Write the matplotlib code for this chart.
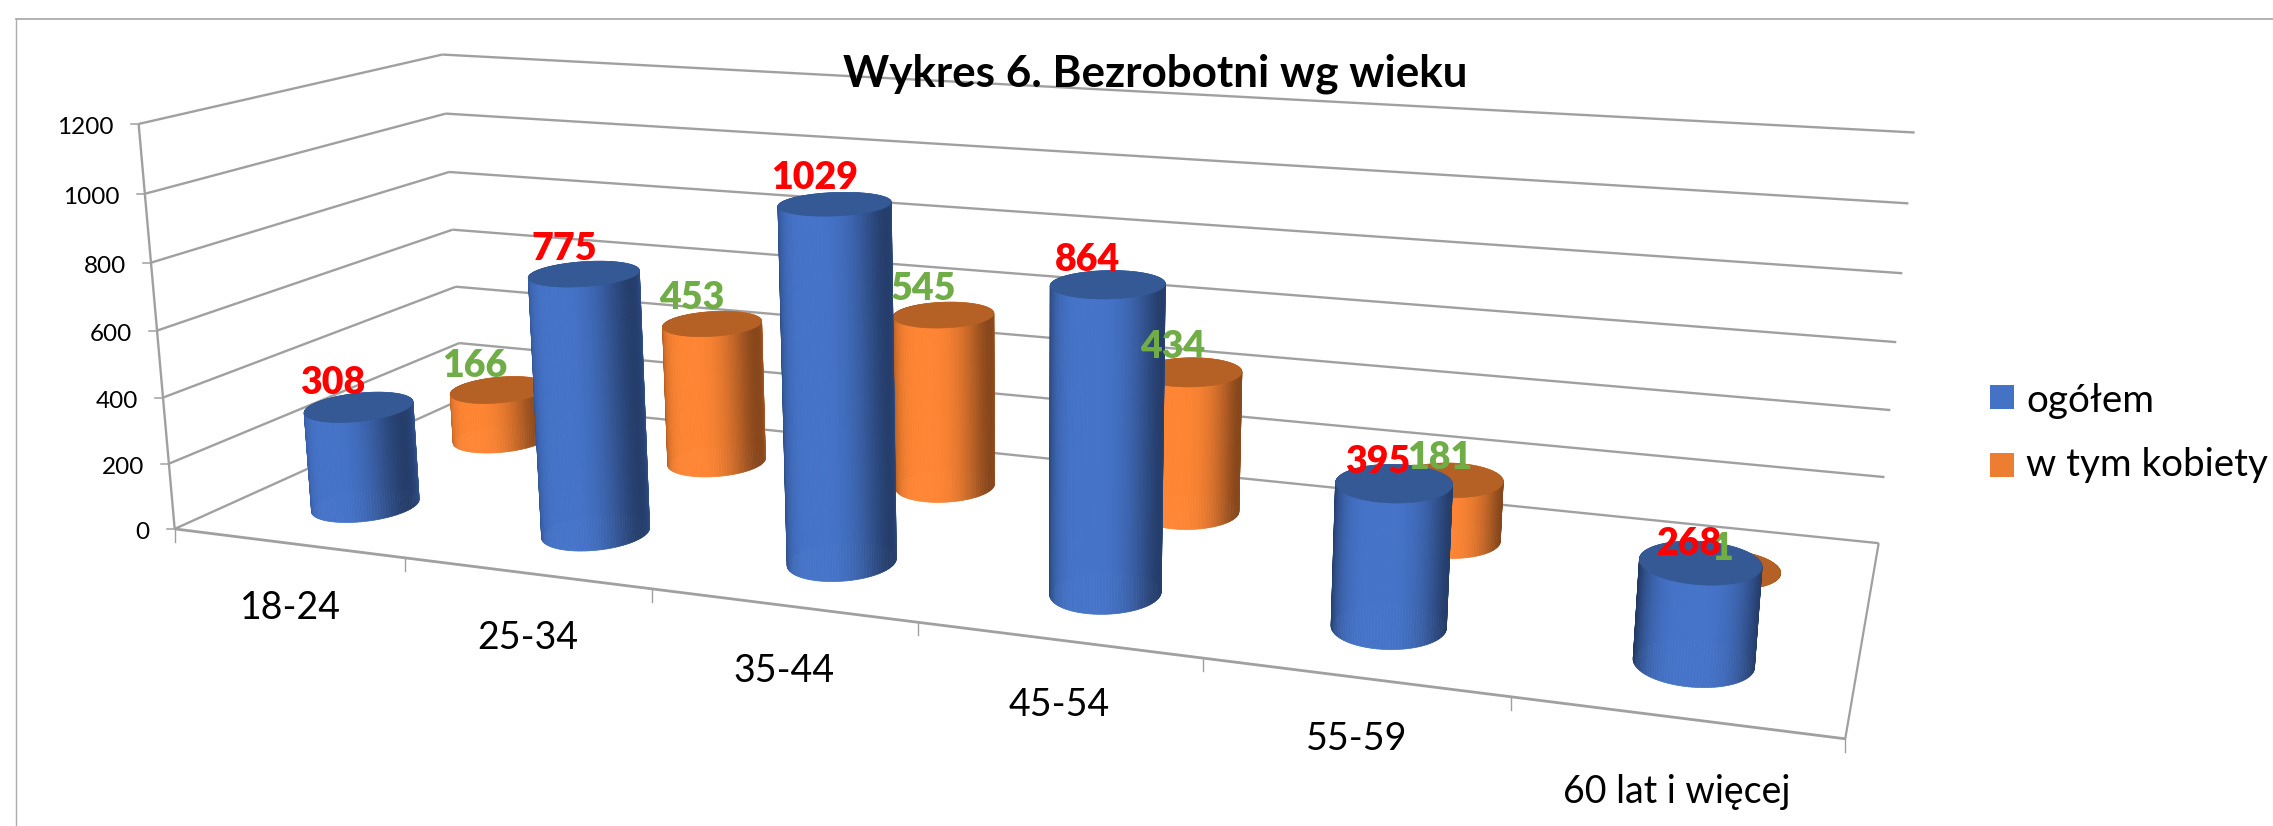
import numpy as np
import matplotlib
matplotlib.use("Agg")
import matplotlib.pyplot as plt
from matplotlib.collections import PolyCollection
from matplotlib.patches import Polygon, Rectangle

# ---------- data ----------
categories = ["18-24", "25-34", "35-44", "45-54", "55-59", "60 lat i więcej"]
ogolem = [308, 775, 1029, 864, 395, 268]
kobiety = [166, 453, 545, 434, 181, 1]
y_ticks = [0, 200, 400, 600, 800, 1000, 1200]
title = "Wykres 6. Bezrobotni wg wieku"
series_names = ["ogółem", "w tym kobiety"]

# ---------- layout ----------
W, H = 2273, 826
plt.rcParams["font.family"] = ["Lato", "DejaVu Sans"]
fig = plt.figure(figsize=(W / 100, H / 100), dpi=100, facecolor="white")
ax = fig.add_axes([0, 0, 1, 1])
ax.set_xlim(0, W)
ax.set_ylim(H, 0)
ax.axis("off")

# Camera of the 3D box: world (category, value, depth) -> picture, calibrated on the box corners.
calib = [
    (0, 0, 0, 176, 529), (0, 200, 0, 168, 464), (0, 400, 0, 162, 397), (0, 600, 0, 156, 330),
    (0, 800, 0, 150, 263), (0, 1000, 0, 145, 194), (0, 1200, 0, 140, 124),
    (0, 200, 1, 459, 343), (0, 400, 1, 456, 286), (0, 600, 1, 453, 230),
    (0, 800, 1, 449, 172), (0, 1000, 1, 445, 114), (0, 1200, 1, 443, 55),
    (6, 0, 1, 1878, 543), (6, 200, 1, 1885, 478), (6, 400, 1, 1891, 410), (6, 600, 1, 1896, 342),
    (6, 800, 1, 1902, 273), (6, 1000, 1, 1908, 203), (6, 1200, 1, 1915, 132),
    (6, 0, 0, 1845, 739), (1, 0, 0, 406, 558), (2, 0, 0, 653, 589), (3, 0, 0, 918, 621),
    (5, 0, 0, 1511, 698),
]
A = []
for X, Y, Z, u, v in calib:
    Yn = Y / 1200
    A.append([X, Yn, Z, 1, 0, 0, 0, 0, -u / 1000 * X, -u / 1000 * Yn, -u / 1000 * Z, -u / 1000])
    A.append([0, 0, 0, 0, X, Yn, Z, 1, -v / 1000 * X, -v / 1000 * Yn, -v / 1000 * Z, -v / 1000])
P = np.linalg.svd(np.array(A))[2][-1].reshape(3, 4)


def proj(x, y, z):
    x, y, z = np.broadcast_arrays(np.asarray(x, float), np.asarray(y, float) / 1200, np.asarray(z, float))
    h = np.stack([x, y, z, np.ones_like(x)], axis=-1) @ P.T
    return h[..., 0] / h[..., 2] * 1000, h[..., 1] / h[..., 2] * 1000


GRID = "#A0A0A0"
# chart frame
ax.plot([16, 16], [H, 19], color="#ADADAD", lw=1.0, zorder=1)
ax.plot([16, W], [19, 19], color="#A6A6A6", lw=1.2, zorder=1)


def seg(p0, p1, lw=1.7):
    (x0, y0), (x1, y1) = proj(*p0), proj(*p1)
    ax.plot([x0, x1], [y0, y1], color=GRID, lw=lw, zorder=2, solid_capstyle="butt")


for v in y_ticks:
    seg((0, v, 0), (0, v, 1))
    seg((0, v, 1), (6, v, 1))
    xt, yt = proj(0, v, 0)
    ax.plot([xt - 8, xt], [yt, yt], color=GRID, lw=1.1, zorder=2)
    ax.text(xt - 25, yt + 4, str(v), ha="right", va="center", fontsize=17.5, color="black", zorder=8)
seg((0, 0, 0), (0, 1200, 0))
seg((0, 0, 0), (6, 0, 0), lw=2.0)
seg((6, 0, 0), (6, 0, 1), lw=1.6)

label_nudge = [(0, 65), (-1, 65), (-1, 65), (-1, 65), (-1, 62), (-2, 74)]
for i in range(7):
    xt, yt = proj(i, 0, 0)
    ax.plot([xt, xt], [yt, yt + 13], color=GRID, lw=1.0, zorder=2)
for i, c in enumerate(categories):
    xa, ya = proj(i, 0, 0)
    xb, yb = proj(i + 1, 0, 0)
    dx, dy = label_nudge[i]
    ax.text((xa + xb) / 2 + dx, (ya + yb) / 2 + dy, c, ha="center", va="center",
            fontsize=27, color="black", zorder=8)


def shade(rgb, k):
    return tuple(np.clip(np.array(rgb) * k, 0, 1))


def cylinder(cx, cz, val, side, top, rx, rz, zo):
    th = np.linspace(0, 2 * np.pi, 121)
    order = np.argsort(-np.sin((th[:-1] + th[1:]) / 2))
    polys, cols = [], []
    for j in order:
        a, b = th[j], th[j + 1]
        xs = cx + rx * np.array([np.cos(a), np.cos(b), np.cos(b), np.cos(a)])
        zs = cz + rz * np.array([np.sin(a), np.sin(b), np.sin(b), np.sin(a)])
        ys = np.array([0, 0, val, val])
        u, w = proj(xs, ys, zs)
        polys.append(np.column_stack([u, w]))
        t = np.cos((a + b) / 2)
        k = 1 - 0.52 * np.abs(t - 0.03) ** 3.2
        cols.append(shade(side, k))
    ax.add_collection(PolyCollection(polys, facecolors=cols, edgecolors=cols, linewidths=0.5, zorder=zo))
    u, w = proj(cx + rx * np.cos(th), val, cz + rz * np.sin(th))
    ax.add_patch(Polygon(np.column_stack([u, w]), closed=True, facecolor=top, edgecolor=top, lw=0.5, zorder=zo + 0.5))
    return proj(cx, val, cz)


BLUE, BLUE_TOP = (0.275, 0.455, 0.79), "#345995"
ORANGE, ORANGE_TOP = (1.0, 0.525, 0.205), "#B56024"
RX, RZ_B, RZ_O = 0.19, 0.112, 0.112
Z_B, Z_O = 0.25, 0.75

blue_off = [(-26, -24), (-20, -25), (-20, -26), (-20, -24), (-16, -21), (-11, -19)]
orange_off = [(-25, -24), (-21, -26), (-20, -26), (-18, -25), (-11, -22), (-3, -20)]

for i in range(len(categories)):
    tx, ty = cylinder(i + 0.5, Z_O, kobiety[i], ORANGE, ORANGE_TOP, RX, RZ_O, 3 + i * 0.01)
    ax.text(tx + orange_off[i][0], ty + orange_off[i][1], str(kobiety[i]), ha="center", va="center",
            fontsize=27, fontweight="heavy", color="#70AD47", zorder=9)
for i in range(len(categories)):
    tx, ty = cylinder(i + 0.5, Z_B, ogolem[i], BLUE, BLUE_TOP, RX, RZ_B, 5 + i * 0.01)
    ax.text(tx + blue_off[i][0], ty + blue_off[i][1], str(ogolem[i]), ha="center", va="center",
            fontsize=27, fontweight="heavy", color="#FF0000", zorder=10)

ax.text(1155, 74, title, ha="center", va="center", fontsize=31.7, fontweight="bold", color="black", zorder=11)

ax.add_patch(Rectangle((1990, 385), 24, 24, facecolor="#4472C4", edgecolor="none", zorder=8))
ax.add_patch(Rectangle((1990, 453), 24, 24, facecolor="#ED7D31", edgecolor="none", zorder=8))
ax.text(2026, 401, series_names[0], ha="left", va="center", fontsize=27.7, color="black", zorder=8)
ax.text(2026, 465, series_names[1], ha="left", va="center", fontsize=27.7, color="black", zorder=8)

fig.savefig("out.png", dpi=100, facecolor="white")
